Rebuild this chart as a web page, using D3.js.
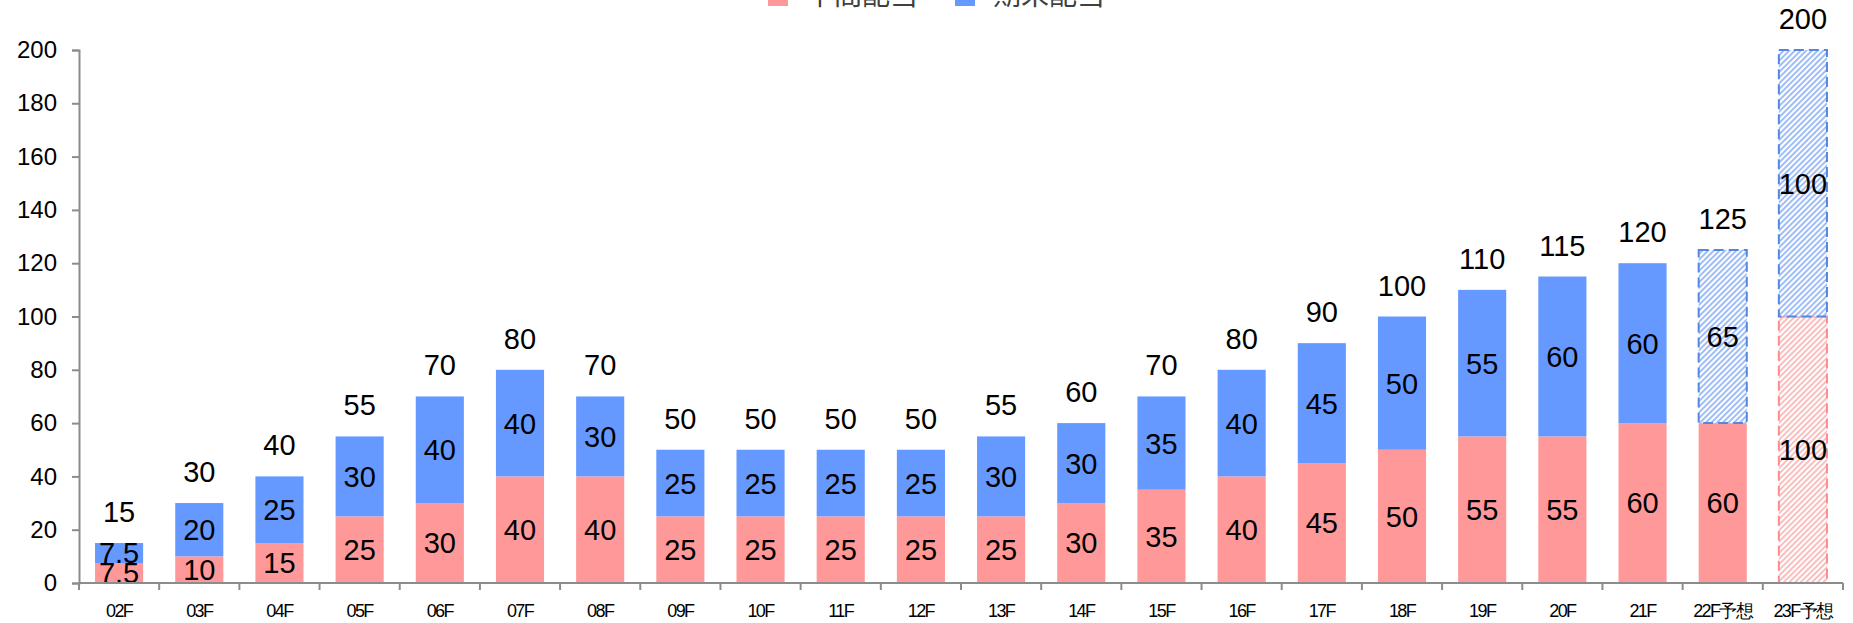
<!DOCTYPE html>
<html>
<head>
<meta charset="utf-8">
<script src="https://cdn.jsdelivr.net/npm/d3@7"></script>
<style>
  html, body { margin: 0; padding: 0; background: #ffffff; }
  svg { display: block; }
</style>
</head>
<body>
<svg id="chart" width="1853" height="623"></svg>
<script>
// Dividend per share by fiscal year (yen): interim + year-end
const categories = ["02F","03F","04F","05F","06F","07F","08F","09F","10F","11F","12F","13F","14F","15F","16F","17F","18F","19F","20F","21F","22F予想","23F予想"];
const interim    = [7.5, 10, 15, 25, 30, 40, 40, 25, 25, 25, 25, 25, 30, 35, 40, 45, 50, 55, 55, 60, 60, 100];
const yearEnd    = [7.5, 20, 25, 30, 40, 40, 30, 25, 25, 25, 25, 30, 30, 35, 40, 45, 50, 55, 60, 60, 65, 100];
// forecast segments are drawn hatched with a dashed outline
const interimForecast = [false,false,false,false,false,false,false,false,false,false,false,false,false,false,false,false,false,false,false,false,false,true];
const yearEndForecast = [false,false,false,false,false,false,false,false,false,false,false,false,false,false,false,false,false,false,false,false,true,true];
const yTicks = [0, 20, 40, 60, 80, 100, 120, 140, 160, 180, 200];
const seriesNames = ["中間配当", "期末配当"];

const colors = { interim: "#FF9999", yearEnd: "#6699FF" };
const hatchStroke = { interim: "#F9A3A3", yearEnd: "#76A1F7" };
const dashStroke = { interim: "#FF8C8C", yearEnd: "#5488E0" };

const svg = d3.select("#chart");
const plotLeft = 79, plotRight = 1843, plotTop = 50, plotBottom = 583;

const x = d3.scaleBand().domain(categories).range([plotLeft, plotRight])
  .paddingInner(0.4).paddingOuter(0.2);
const y = d3.scaleLinear().domain([0, 200]).range([plotBottom, plotTop]);

const labelFont = "'Liberation Sans', Arial, sans-serif";

// hatch patterns
const defs = svg.append("defs");
function hatch(id, color) {
  const p = defs.append("pattern").attr("id", id)
    .attr("patternUnits", "userSpaceOnUse")
    .attr("width", 4).attr("height", 4)
    .attr("patternTransform", "rotate(45)");
  p.append("rect").attr("width", 4).attr("height", 4).attr("fill", "#ffffff");
  p.append("line").attr("x1", 1).attr("y1", 0).attr("x2", 1).attr("y2", 4)
    .attr("stroke", color).attr("stroke-width", 1.4);
}
hatch("hatch-interim", hatchStroke.interim);
hatch("hatch-yearEnd", hatchStroke.yearEnd);

const rows = categories.map((c, i) => ({
  cat: c, interim: interim[i], yearEnd: yearEnd[i],
  interimF: interimForecast[i], yearEndF: yearEndForecast[i],
  total: interim[i] + yearEnd[i]
}));

// y axis
const yAxis = svg.append("g").attr("transform", `translate(${plotLeft},0)`)
  .call(d3.axisLeft(y).tickValues(yTicks).tickSize(7).tickPadding(15).tickFormat(d3.format("d")));
yAxis.select(".domain").attr("stroke", "#8c8c8c").attr("stroke-width", 2);
yAxis.selectAll(".tick line").attr("stroke", "#8c8c8c").attr("stroke-width", 2);
yAxis.selectAll(".tick text").attr("font-family", labelFont).attr("font-size", 24).attr("fill", "#000");

// bars
const barG = svg.append("g");
rows.forEach(r => {
  const bx = x(r.cat), bw = x.bandwidth();
  const segs = [
    { key: "interim", v0: 0, v1: r.interim, f: r.interimF },
    { key: "yearEnd", v0: r.interim, v1: r.total, f: r.yearEndF }
  ];
  segs.forEach(s => {
    const y0 = y(s.v0), y1 = y(s.v1);
    if (s.f) {
      barG.append("rect").attr("x", bx).attr("y", y1).attr("width", bw).attr("height", y0 - y1)
        .attr("fill", `url(#hatch-${s.key})`)
        .attr("stroke", dashStroke[s.key]).attr("stroke-width", 2)
        .attr("stroke-dasharray", "10,5");
    } else {
      barG.append("rect").attr("x", bx).attr("y", y1).attr("width", bw).attr("height", y0 - y1)
        .attr("fill", colors[s.key]);
    }
  });
});

// segment value labels and totals
const lblG = svg.append("g").attr("font-family", labelFont).attr("font-size", 29)
  .attr("fill", "#000").attr("text-anchor", "middle");
rows.forEach(r => {
  const cx = x(r.cat) + x.bandwidth() / 2;
  lblG.append("text").attr("x", cx).attr("y", y(r.interim / 2)).attr("dy", "0.36em").text(r.interim);
  lblG.append("text").attr("x", cx).attr("y", y(r.interim + r.yearEnd / 2)).attr("dy", "0.36em").text(r.yearEnd);
  lblG.append("text").attr("x", cx).attr("y", y(r.total) - 21).text(r.total);
});

// x axis: line, boundary ticks, category labels
const step = x.step();
const offset = (step - x.bandwidth()) / 2;
const xAxis = svg.append("g").attr("transform", `translate(0,${plotBottom})`)
  .call(d3.axisBottom(x).tickSize(0).tickPadding(21));
xAxis.select(".domain").attr("stroke", "#8c8c8c").attr("stroke-width", 2)
  .attr("d", `M${plotLeft},0H${plotRight}`);
xAxis.selectAll(".tick text").attr("font-family", labelFont).attr("font-size", 18)
  .attr("letter-spacing", "-1.6px").attr("fill", "#000");
const bounds = categories.map(c => x(c) - offset)
  .concat([x(categories[categories.length - 1]) + x.bandwidth() + offset]);
xAxis.selectAll("line.bound").data(bounds).join("line").attr("class", "bound")
  .attr("x1", d => d).attr("x2", d => d).attr("y1", 0).attr("y2", 7)
  .attr("stroke", "#8c8c8c").attr("stroke-width", 2);

// legend (top)
const legend = svg.append("g");
const legendX = [768, 955];
seriesNames.forEach((name, i) => {
  const key = i === 0 ? "interim" : "yearEnd";
  legend.append("rect").attr("x", legendX[i]).attr("y", -14).attr("width", 20).attr("height", 20)
    .attr("fill", colors[key]);
  legend.append("text").attr("x", legendX[i] + 38).attr("y", 5)
    .attr("font-family", "'Noto Sans CJK JP', sans-serif").attr("font-size", 28)
    .attr("fill", "#404040").text(name);
});
</script>
</body>
</html>
